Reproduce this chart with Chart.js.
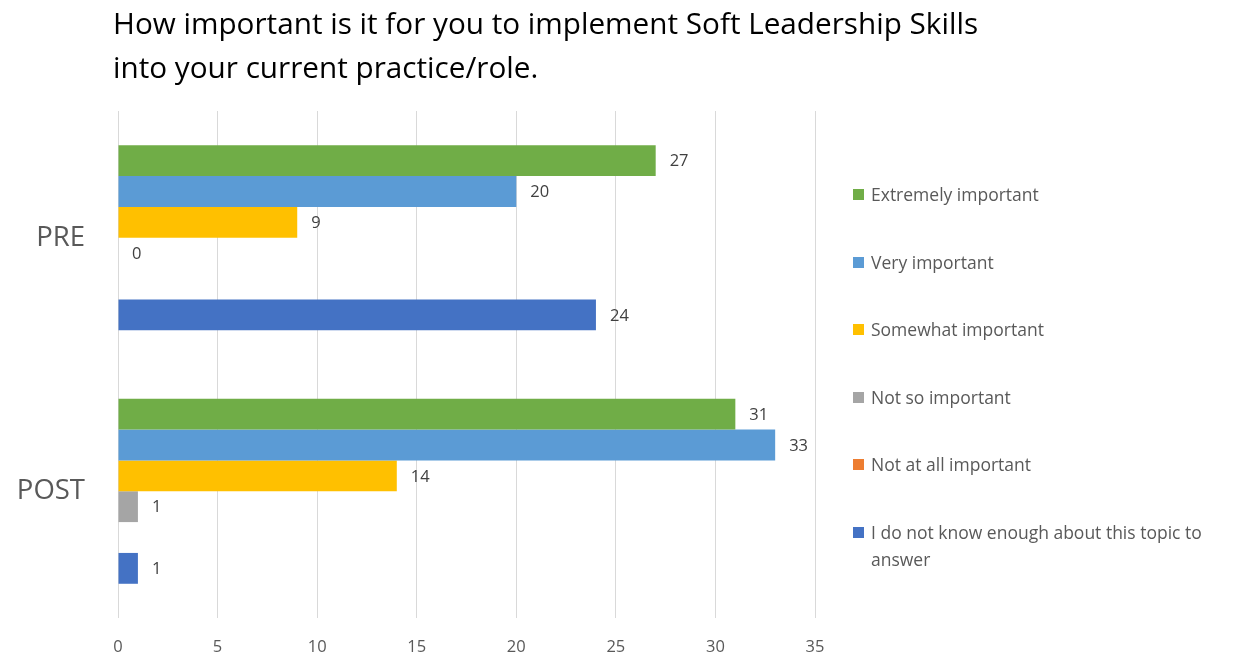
<!DOCTYPE html>
<html>
<head>
<meta charset="utf-8">
<script src="https://cdn.jsdelivr.net/npm/chart.js@4/dist/chart.umd.min.js"></script>
<style>
  body { margin: 0; background: #fff; }
  #wrap { position: relative; width: 1254px; height: 672px; overflow: hidden; }
  #title {
    position: absolute; left: 113px; top: 1px;
    font-family: "Open Sans", sans-serif; font-size: 29.7px; line-height: 44px; color: #000;
  }
  #legend {
    position: absolute; left: 853px; top: 181px; width: 392px;
    font-family: "Open Sans", sans-serif; font-size: 17.5px; color: #595959;
  }
  .item { position: relative; height: 67.6px; padding-left: 18px; line-height: 27px; }
  .box { position: absolute; left: 0; top: 8px; width: 11px; height: 11px; }
</style>
</head>
<body>
<div id="wrap">
  <canvas id="chart" width="1254" height="672"></canvas>
  <div id="title">How important is it for you to implement Soft Leadership Skills<br>into your current practice/role.</div>
  <div id="legend"></div>
</div>
<script>
// Data
var categories = ['PRE', 'POST'];
var seriesNames = ['Extremely important', 'Very important', 'Somewhat important',
    'Not so important', 'Not at all important', 'I do not know enough about this topic to answer'];
var seriesColors = ['#70AD47', '#5B9BD5', '#FFC000', '#A5A5A5', '#ED7D31', '#4472C4'];
var extremely = [27, 31];
var very = [20, 33];
var somewhat = [9, 14];
var notSo = [0, 1];
var notAtAll = [null, null];
var dontKnow = [24, 1];
var xTicks = [0, 5, 10, 15, 20, 25, 30, 35];

var seriesValues = [extremely, very, somewhat, notSo, notAtAll, dontKnow];

// Value labels at the end of each bar
var valueLabels = {
    id: 'valueLabels',
    afterDatasetsDraw: function (chart) {
        var ctx = chart.ctx;
        ctx.save();
        ctx.font = '16.5px "Open Sans", sans-serif';
        ctx.fillStyle = '#404040';
        ctx.textAlign = 'left';
        ctx.textBaseline = 'middle';
        chart.data.datasets.forEach(function (ds, i) {
            chart.getDatasetMeta(i).data.forEach(function (bar, j) {
                var v = ds.data[j];
                if (v === null || v === undefined) return;
                ctx.fillText(String(v), bar.x + 14, bar.y + 1);
            });
        });
        ctx.restore();
    }
};

var ctx = document.getElementById('chart').getContext('2d');
var chart = new Chart(ctx, {
    type: 'bar',
    data: {
        labels: categories,
        datasets: seriesNames.map(function (name, i) {
            return {
                label: name,
                data: seriesValues[i],
                backgroundColor: seriesColors[i],
                borderWidth: 0,
                categoryPercentage: 0.73,
                barPercentage: 1.0
            };
        })
    },
    options: {
        indexAxis: 'y',
        responsive: false,
        animation: false,
        layout: { padding: { left: 0, right: 439, top: 111, bottom: 0 } },
        plugins: {
            legend: { display: false },
            tooltip: { enabled: false }
        },
        scales: {
            x: {
                min: 0,
                max: 35,
                afterBuildTicks: function (axis) {
                    axis.ticks = xTicks.map(function (v) { return { value: v }; });
                },
                grid: { color: '#d9d9d9', lineWidth: 1, drawTicks: false },
                border: { display: false },
                ticks: {
                    color: '#595959',
                    font: { family: 'Open Sans', size: 16.5 },
                    padding: 19
                },
                afterFit: function (axis) { axis.height = 54; }
            },
            y: {
                grid: { display: false, drawTicks: false },
                border: { display: false },
                ticks: {
                    color: '#595959',
                    font: { family: 'Open Sans', size: 27.5 },
                    padding: 33
                },
                afterFit: function (axis) { axis.width = 118; }
            }
        }
    },
    plugins: [valueLabels]
});

// HTML legend built from datasets
var legend = document.getElementById('legend');
chart.data.datasets.forEach(function (ds) {
    var item = document.createElement('div');
    item.className = 'item';
    var box = document.createElement('span');
    box.className = 'box';
    box.style.background = ds.backgroundColor;
    item.appendChild(box);
    item.appendChild(document.createTextNode(ds.label));
    legend.appendChild(item);
});
</script>
</body>
</html>
